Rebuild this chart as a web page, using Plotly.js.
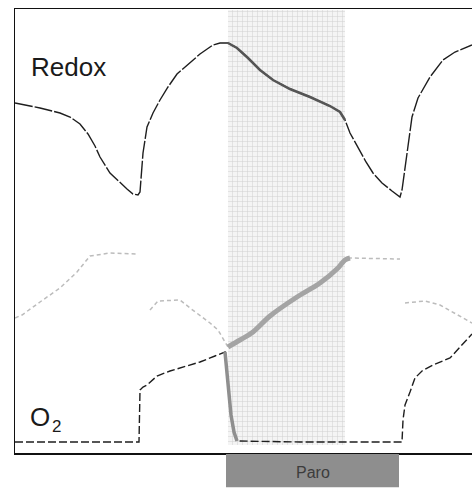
<!DOCTYPE html>
<html>
<head>
<meta charset="utf-8">
<script src="https://cdn.plot.ly/plotly-3.0.1.min.js"></script>
<style>html,body{margin:0;padding:0;background:#fff;}#chart{width:472px;height:488px;}</style>
</head>
<body>
<div id="chart"></div>
<script>
// time axis (arbitrary units) and signal levels (arbitrary units)
const redoxT = [0,25,45,55,65,73,80,85,95,103,112,118,123,125,126,128,132,138,145,153,162,175,185,198,205,213,222,233,245,258,275,295,315,325,330,335,343,351,358,367,377,385,387,388,392,397,403,415,428,440,457];
const redoxV = [350,345,340,336,329,319,307,296,280,272,264,259,258,261,278,300,326,340,353,366,379,390,399,408,410,410,405,395,383,373,364,356,347,341,333,320,305,291,280,270,262,256,263,270,303,336,355,376,393,401,408];

const o2T = [0,124,125,128,132,142,155,165,185,200,210,213,216,219,222,285,387,388,390,395,400,407,418,435,445,453,457];
const o2V = [11,11,63,66,68,77,82,85,91,97,101,68,38,21,12,11,11,33,48,61,75,82,88,95,106,115,119];

const grayT = [0,7,25,45,62,75,95,122,null,135,143,165,175,195,203,213,225,238,255,282,305,323,330,335,385,null,390,410,425,438,452,457];
const grayV = [135,138,151,165,181,197,200,199,null,143,152,153,145,130,123,106,113,121,137,156,170,185,193,195,194,null,150,152,148,141,133,130];

const bandStart = 213, bandEnd = 330;
const paroStart = 211, paroEnd = 384;
const labels = {redox: 'Redox', o2: 'O', o2sub: '2', paro: 'Paro'};

function inRange(ts, vs, a, b) {
  const x = [], y = [];
  ts.forEach((t, i) => { if (t !== null && t >= a && t <= b) { x.push(t); y.push(vs[i]); } });
  return {x, y};
}

const gIn = inRange(grayT, grayV, bandStart, bandEnd + 5);
const rIn = inRange(redoxT, redoxV, bandStart, bandEnd);
const oIn = inRange(o2T, o2V, 210, 222);

const traces = [
  {x: [bandStart, bandEnd, bandEnd, bandStart], y: [8, 8, 443, 443], type: 'scatter', mode: 'none',
   fill: 'toself', fillcolor: '#efefef',
   fillpattern: {shape: '+', fgcolor: '#d2d2d2', bgcolor: '#f4f4f4', size: 5, solidity: 0.2},
   hoverinfo: 'skip', showlegend: false},
  {x: grayT, y: grayV, type: 'scatter', mode: 'lines', connectgaps: false,
   line: {color: '#bcbcbc', width: 1.5, dash: '4px,3px'}, showlegend: false},
  {x: gIn.x, y: gIn.y, type: 'scatter', mode: 'lines',
   line: {color: '#a4a4a4', width: 5, shape: 'spline'}, showlegend: false},
  {x: redoxT, y: redoxV, type: 'scatter', mode: 'lines',
   line: {color: '#1e1e1e', width: 1.4, dash: '18px,2px'}, showlegend: false},
  {x: rIn.x, y: rIn.y, type: 'scatter', mode: 'lines',
   line: {color: '#555', width: 2.5}, showlegend: false},
  {x: o2T, y: o2V, type: 'scatter', mode: 'lines',
   line: {color: '#1e1e1e', width: 1.4, dash: '8px,3px'}, showlegend: false},
  {x: oIn.x, y: oIn.y, type: 'scatter', mode: 'lines',
   line: {color: '#8f8f8f', width: 3.5}, showlegend: false}
];

const font = 'Liberation Sans, Arial, sans-serif';
const layout = {
  width: 472, height: 488,
  margin: {l: 15, r: 0, t: 9, b: 35},
  paper_bgcolor: '#fff', plot_bgcolor: '#fff',
  showlegend: false,
  xaxis: {range: [0, 457], showgrid: false, zeroline: false, showticklabels: false, ticks: '',
          showline: true, mirror: true, linecolor: '#111', linewidth: 1.5},
  yaxis: {range: [0, 444], showgrid: false, zeroline: false, showticklabels: false, ticks: '',
          showline: true, linecolor: '#111', linewidth: 1.5},
  shapes: [
    {type: 'rect', xref: 'x', yref: 'paper', x0: paroStart, x1: paroEnd, y0: -0.077, y1: -0.002,
     fillcolor: '#8e8e8e', line: {width: 0}, layer: 'above'}
  ],
  annotations: [
    {xref: 'x', yref: 'y', x: 14, y: 386, text: labels.redox, showarrow: false, xanchor: 'left', yanchor: 'middle',
     font: {family: font, size: 26, color: '#1a1a1a'}},
    {xref: 'x', yref: 'y', x: 13, y: 36, text: labels.o2, showarrow: false, xanchor: 'left', yanchor: 'middle',
     font: {family: font, size: 26, color: '#1a1a1a'}},
    {xref: 'x', yref: 'y', x: 35, y: 27, text: labels.o2sub, showarrow: false, xanchor: 'left', yanchor: 'middle',
     font: {family: font, size: 17, color: '#1a1a1a'}},
    {xref: 'x', yref: 'paper', x: (paroStart + paroEnd) / 2, y: -0.043, text: labels.paro, showarrow: false,
     xanchor: 'center', yanchor: 'middle',
     font: {family: font, size: 16, color: '#3c3c3c'}}
  ]
};

Plotly.newPlot('chart', traces, layout, {displayModeBar: false, staticPlot: true});
</script>
</body>
</html>
